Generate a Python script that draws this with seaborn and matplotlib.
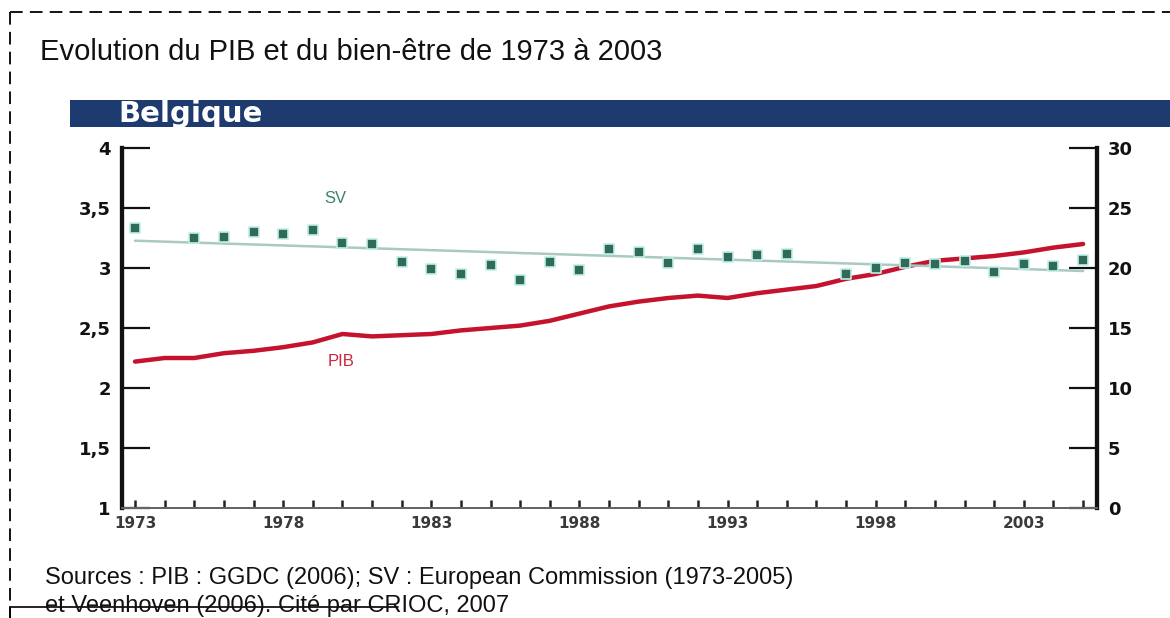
import numpy as np
import pandas as pd
import matplotlib
matplotlib.use("Agg")
import matplotlib.pyplot as plt
import seaborn as sns
from matplotlib.lines import Line2D
from matplotlib.patches import Rectangle

# --- Données ---
annees = list(range(1973, 2006))
pib = [2.22, 2.25, 2.25, 2.29, 2.31, 2.34, 2.38, 2.45, 2.43, 2.44, 2.45,
       2.48, 2.50, 2.52, 2.56, 2.62, 2.68, 2.72, 2.75, 2.77, 2.75, 2.79,
       2.82, 2.85, 2.91, 2.95, 3.01, 3.06, 3.08, 3.10, 3.13, 3.17, 3.20]
sv = [23.3, np.nan, 22.5, 22.6, 23.0, 22.8, 23.2, 22.1, 22.0, 20.5, 19.9,
      19.5, 20.25, 19.0, 20.5, 19.8, 21.6, 21.3, 20.4, 21.6, 20.9, 21.1,
      21.2, np.nan, 19.5, 20.0, 20.4, 20.3, 20.6, 19.7, 20.3, 20.2, 20.7]
annees_etiquettes = [1973, 1978, 1983, 1988, 1993, 1998, 2003]
ticks_gauche = [1, 1.5, 2, 2.5, 3, 3.5, 4]
etiquettes_gauche = ["1", "1,5", "2", "2,5", "3", "3,5", "4"]
ticks_droite = [0, 5, 10, 15, 20, 25, 30]

df = pd.DataFrame({"annee": annees, "PIB": pib, "SV": sv})

# --- Style ---
sns.set_theme(style="white")
plt.rcParams['font.family'] = ['Liberation Sans', 'DejaVu Sans']
gras = ['DejaVu Sans']

W, H = 1170, 618
fig = plt.figure(figsize=(W / 100, H / 100), dpi=100)
fig.patch.set_facecolor('white')

def fx(px):
    return px / W

def fy(py):
    return 1 - py / H

ax = fig.add_axes([fx(122), fy(508), fx(1097) - fx(122), fy(148) - fy(508)])
ax2 = ax.twinx()

# PIB (axe gauche)
sns.lineplot(data=df, x="annee", y="PIB", ax=ax, color="#c4122f", linewidth=3.2)

# SV (axe droit) : droite de tendance + points
sns.regplot(data=df.dropna(), x="annee", y="SV", ax=ax2, scatter=False, ci=None,
            line_kws=dict(color="#a9c9c2", linewidth=1.8), truncate=True)
sns.scatterplot(data=df, x="annee", y="SV", ax=ax2, marker="s", s=45,
                color="#2f6b58", edgecolor="#bfeee6", linewidth=1.2, zorder=5)

ax.set_xlim(1972.56, 2005.47)
ax.set_ylim(1, 4)
ax2.set_ylim(0, 30)

ax.set_xticks(annees, minor=True)
ax.set_xticks(annees_etiquettes)
ax.set_xticklabels([str(a) for a in annees_etiquettes], family=gras,
                   fontweight='bold', fontsize=11, color='#3a3a3a')
ax.set_yticks(ticks_gauche)
ax.set_yticklabels(etiquettes_gauche, family=gras, fontweight='bold',
                   fontsize=13, color='#111111')
ax2.set_yticks(ticks_droite)
ax2.set_yticklabels([str(t) for t in ticks_droite], family=gras,
                    fontweight='bold', fontsize=13, color='#111111')

ax.tick_params(axis='x', which='both', direction='in', length=6, width=1.8,
               color='#222222', pad=6, bottom=True)
ax.tick_params(axis='y', direction='in', length=20, width=1.6,
               color='#111111', pad=8, left=True)
ax2.tick_params(axis='y', direction='in', length=20, width=1.6,
                color='#111111', pad=8, right=True)

ax.set_xlabel("")
ax.set_ylabel("")
ax2.set_xlabel("")
ax2.set_ylabel("")

for a in (ax, ax2):
    a.spines['top'].set_visible(False)
    a.spines['left'].set_linewidth(3)
    a.spines['left'].set_color('#111111')
    a.spines['right'].set_linewidth(3)
    a.spines['right'].set_color('#111111')
    a.spines['bottom'].set_linewidth(1.4)
    a.spines['bottom'].set_color('#666666')
ax.set_facecolor('white')

# Étiquettes des séries
fig.text(fx(335), fy(198), "SV", color="#3d8270", fontsize=12, ha='center',
         va='center')
fig.text(fx(341), fy(362), "PIB", color="#d0243c", fontsize=12, ha='center',
         va='center')

# Bandeau "Belgique"
fig.add_artist(Rectangle((fx(70), fy(127)), 1 - fx(70), fy(100) - fy(127),
                         transform=fig.transFigure, facecolor="#1e3b6f",
                         edgecolor='none'))
fig.text(fx(118), fy(114), "Belgique", color='white', fontsize=21,
         fontweight='bold', va='center', ha='left', family=gras)

# Titre et sources
fig.text(fx(40), fy(52), "Evolution du PIB et du bien-être de 1973 à 2003",
         fontsize=21, va='center', ha='left', color='#111111')
fig.text(fx(45), fy(584), "Sources : PIB : GGDC (2006); SV : European Commission (1973-2005)",
         fontsize=17, va='baseline', ha='left', color='#111111')
fig.text(fx(45), fy(612), "et Veenhoven (2006). Cité par CRIOC, 2007",
         fontsize=17, va='baseline', ha='left', color='#111111')

# Cadre en pointillés
fig.add_artist(Line2D([fx(10), 1], [fy(12), fy(12)], transform=fig.transFigure,
                      color='black', linewidth=1.3, linestyle=(0, (7, 4))))
fig.add_artist(Line2D([fx(10), fx(10)], [fy(12), 0], transform=fig.transFigure,
                      color='black', linewidth=1.3, linestyle=(0, (7, 4))))
fig.add_artist(Line2D([fx(10), fx(398)], [fy(607), fy(607)], transform=fig.transFigure,
                      color='black', linewidth=1.2))
fig.add_artist(Line2D([fx(10), fx(10)], [fy(607), 0], transform=fig.transFigure,
                      color='black', linewidth=1.2))

fig.savefig("out.png", dpi=100, facecolor='white')
